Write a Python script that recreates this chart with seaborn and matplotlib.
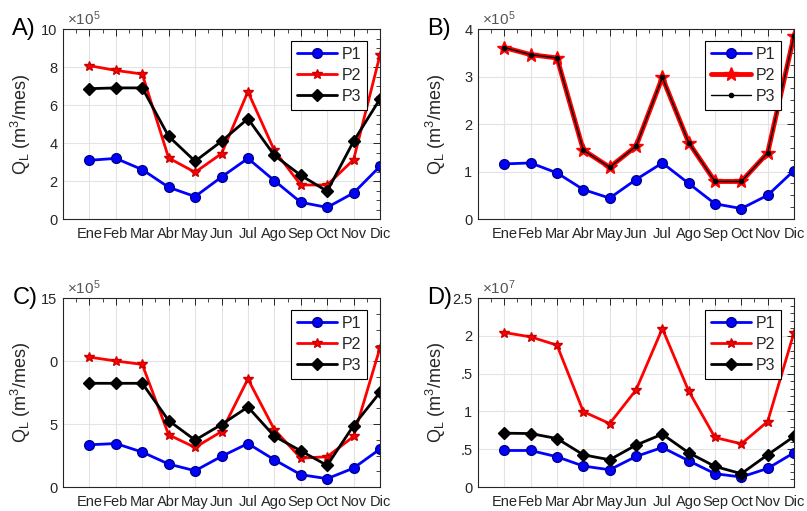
import numpy as np
import pandas as pd
import matplotlib
matplotlib.use("Agg")
import matplotlib.pyplot as plt
from matplotlib.ticker import MultipleLocator, FixedLocator, FixedFormatter, AutoMinorLocator
import seaborn as sns

# ---------------- data ----------------
months = ["Ene", "Feb", "Mar", "Abr", "May", "Jun", "Jul", "Ago", "Sep", "Oct", "Nov", "Dic"]

# Panel A (x1e5)
a_p1 = [3.09, 3.19, 2.60, 1.67, 1.18, 2.21, 3.19, 2.02, 0.88, 0.61, 1.37, 2.77]
a_p2 = [8.07, 7.82, 7.63, 3.21, 2.46, 3.44, 6.70, 3.61, 1.79, 1.79, 3.12, 8.63]
a_p3 = [6.86, 6.90, 6.90, 4.35, 3.04, 4.09, 5.28, 3.35, 2.30, 1.46, 4.09, 6.32]

# Panel B (x1e5)
b_p1 = [1.16, 1.18, 0.97, 0.62, 0.44, 0.83, 1.18, 0.75, 0.32, 0.22, 0.50, 1.02]
b_p2 = [3.61, 3.46, 3.39, 1.45, 1.09, 1.53, 2.98, 1.61, 0.79, 0.79, 1.39, 3.86]
b_p3 = [3.61, 3.46, 3.39, 1.45, 1.09, 1.53, 2.98, 1.61, 0.79, 0.79, 1.39, 3.86]

# Panel C (x1e5)
c_p1 = [3.35, 3.45, 2.77, 1.82, 1.29, 2.43, 3.45, 2.16, 0.98, 0.66, 1.50, 3.01]
c_p2 = [10.31, 10.00, 9.73, 4.14, 3.14, 4.40, 8.57, 4.56, 2.29, 2.40, 4.01, 11.05]
c_p3 = [8.23, 8.23, 8.23, 5.27, 3.72, 4.96, 6.35, 4.03, 2.87, 1.71, 4.88, 7.51]

# Panel D (x1e7)
d_p1 = [0.483, 0.483, 0.400, 0.277, 0.228, 0.404, 0.523, 0.347, 0.176, 0.132, 0.246, 0.453]
d_p2 = [2.043, 1.986, 1.876, 0.997, 0.839, 1.283, 2.096, 1.270, 0.655, 0.571, 0.866, 2.043]
d_p3 = [0.712, 0.707, 0.641, 0.426, 0.360, 0.554, 0.699, 0.453, 0.272, 0.176, 0.426, 0.668]

series_names = ["P1", "P2", "P3"]
panel_labels = ["A)", "B)", "C)", "D)"]
exponents = ["5", "5", "5", "7"]
y_ticks = [[0, 2, 4, 6, 8, 10], [0, 1, 2, 3, 4], [0, 5, 10, 15], [0, 0.5, 1, 1.5, 2, 2.5]]
y_ticklabels = [["0", "2", "4", "6", "8", "10"], ["0", "1", "2", "3", "4"],
                ["0", "5", "0", "15"], ["0", ".5", "1", ".5", "2", "2.5"]]

# ---------------- style ----------------
sns.set_style("white")
plt.rcParams["font.family"] = ["Liberation Sans", "DejaVu Sans"]
plt.rcParams["mathtext.default"] = "regular"

fig = plt.figure(figsize=(8.07, 5.11), dpi=100)

W, H = 807, 511
boxes = [(63, 29, 380, 219), (478, 29, 794, 219), (63, 298, 380, 487), (478, 298, 794, 487)]
panels = [(a_p1, a_p2, a_p3), (b_p1, b_p2, b_p3), (c_p1, c_p2, c_p3), (d_p1, d_p2, d_p3)]

dark = "#262626"
x = np.arange(1, 13)

for i, (box, data) in enumerate(zip(boxes, panels)):
    l, t, r, b = box
    ax = fig.add_axes([l / W, 1 - b / H, (r - l) / W, (b - t) / H])
    p1, p2, p3 = data
    if i == 1:
        styles = [
            dict(color="#0000ff", marker="o", markersize=7, linewidth=2.0, mfc="#0000ff", mec="#00008b"),
            dict(color="#ff0000", marker="*", markersize=10, linewidth=3.5, mfc="#ff0000", mec="#ff0000"),
            dict(color="#000000", marker="o", markersize=3, linewidth=1.0, mfc="#000000", mec="#000000"),
        ]
    else:
        styles = [
            dict(color="#0000ff", marker="o", markersize=7, linewidth=2.0, mfc="#0000ff", mec="#00008b"),
            dict(color="#ff0000", marker="*", markersize=7, linewidth=2.0, mfc="#ff0000", mec="#cc0000"),
            dict(color="#000000", marker="D", markersize=6, linewidth=2.0, mfc="#000000", mec="#000000"),
        ]
    for name, vals, st in zip(series_names, (p1, p2, p3), styles):
        df = pd.DataFrame({"mes": x, "Q": vals})
        sns.lineplot(data=df, x="mes", y="Q", ax=ax, color=st["color"], marker=st["marker"],
                     markersize=st["markersize"], linewidth=st["linewidth"],
                     markerfacecolor=st["mfc"], markeredgecolor=st["mec"], markeredgewidth=1.0,
                     label=name, sort=False)

    ax.set_xlim(0, 12)
    yt = y_ticks[i]
    ax.set_ylim(yt[0], yt[-1])
    ax.xaxis.set_major_locator(FixedLocator(x))
    ax.set_xticklabels(months)
    ax.xaxis.set_minor_locator(MultipleLocator(0.5))
    ax.yaxis.set_major_locator(FixedLocator(yt))
    ax.yaxis.set_major_formatter(FixedFormatter(y_ticklabels[i]))
    ax.yaxis.set_minor_locator(AutoMinorLocator(4 if i != 3 else 5))
    ax.tick_params(which="both", direction="in", top=True, right=True, colors=dark,
                   labelsize=10.5, labelcolor=dark)
    ax.tick_params(which="major", length=5, width=0.7)
    ax.tick_params(which="minor", length=3, width=0.6)
    ax.tick_params(axis="x", pad=6)
    ax.tick_params(axis="y", pad=4)
    ax.grid(True, which="major", color="#e3e3e3", linewidth=0.8)
    ax.set_axisbelow(True)
    for sp in ax.spines.values():
        sp.set_color(dark)
        sp.set_linewidth(0.8)
    ax.set_xlabel("")
    ax.set_ylabel(r"Q$_L$ (m$^3$/mes)", fontsize=13, color=dark)
    ax.yaxis.set_label_coords(-0.095, 0.5)

    ax.text(0.012, 1.005, r"$\times10^{%s}$" % exponents[i], transform=ax.transAxes,
            fontsize=11, color="#555555", ha="left", va="bottom")
    ax.text(-0.16, 1.0, panel_labels[i], transform=ax.transAxes, fontsize=17,
            color="black", ha="left", va="center")

    leg = ax.legend(loc="upper right", bbox_to_anchor=(0.958, 0.935), fontsize=11.5,
                    frameon=True, fancybox=False, handlelength=2.5, handletextpad=0.3,
                    labelspacing=0.38, borderpad=0.35, borderaxespad=0.0)
    leg.get_frame().set_edgecolor("black")
    leg.get_frame().set_linewidth(0.8)
    leg.get_frame().set_alpha(1.0)

fig.savefig("out.png", dpi=100)
